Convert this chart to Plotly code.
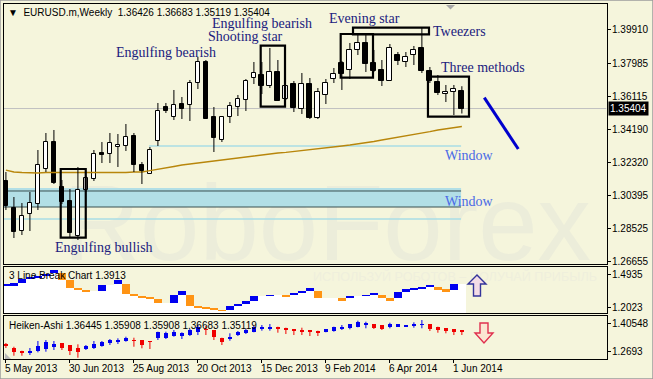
import base64
import plotly.graph_objects as go

W, H = 653, 379
BG = "#F5F5DC"
SANS = "Liberation Sans, Arial, sans-serif"
SERIF = "Liberation Serif, Times New Roman, serif"

# ---------------- data ----------------
tick_labels = ["5 May 2013", "30 Jun 2013", "25 Aug 2013", "20 Oct 2013",
               "15 Dec 2013", "9 Feb 2014", "6 Apr 2014", "1 Jun 2014"]
tick_index = [0, 8, 16, 24, 32, 40, 48, 56]

opens = [1.31245, 1.29696, 1.28376, 1.29352, 1.29925, 1.31934, 1.33483, 1.30901, 1.30098, 1.28089,
         1.30729, 1.31360, 1.32852, 1.32794, 1.33196, 1.33254, 1.33827, 1.32163, 1.31647, 1.33540,
         1.35491, 1.34918, 1.35663, 1.35606, 1.36868, 1.38073, 1.34918, 1.33598, 1.34918, 1.35491,
         1.35893, 1.37155, 1.37327, 1.36696, 1.37500, 1.35950, 1.36811, 1.35377, 1.36811, 1.34860,
         1.36180, 1.37098, 1.38016, 1.37614, 1.38762, 1.39164, 1.38016, 1.37614, 1.36983, 1.38475,
         1.38073, 1.38475, 1.38877, 1.37557, 1.36926, 1.36237, 1.36352, 1.36426]
highs = [1.31762, 1.30327, 1.29983, 1.30614, 1.33024, 1.33999, 1.34172, 1.31303, 1.30786, 1.32049,
         1.31532, 1.33024, 1.33483, 1.33999, 1.33942, 1.34516, 1.33999, 1.32335, 1.33196, 1.35721,
         1.35721, 1.36467, 1.36065, 1.37041, 1.38360, 1.38188, 1.35491, 1.34918, 1.35778, 1.36180,
         1.37098, 1.38073, 1.38073, 1.38877, 1.38188, 1.36696, 1.36983, 1.37442, 1.37155, 1.36582,
         1.37098, 1.37729, 1.38131, 1.39164, 1.39623, 1.39623, 1.38762, 1.38188, 1.39106, 1.38647,
         1.38647, 1.38992, 1.40024, 1.37787, 1.37327, 1.36754, 1.36754, 1.36683]
lows = [1.29581, 1.27975, 1.28147, 1.28376, 1.29581, 1.31762, 1.31073, 1.29925, 1.28032, 1.27860,
        1.30614, 1.31245, 1.32278, 1.32278, 1.32049, 1.32967, 1.31762, 1.31073, 1.31647, 1.33254,
        1.35147, 1.34745, 1.34803, 1.34688, 1.36524, 1.34803, 1.32909, 1.33483, 1.34573, 1.34975,
        1.35262, 1.36811, 1.36237, 1.36582, 1.35836, 1.35893, 1.35204, 1.35090, 1.34803, 1.34803,
        1.35663, 1.36868, 1.36467, 1.37098, 1.38475, 1.37500, 1.37500, 1.36696, 1.36983, 1.37901,
        1.37787, 1.37901, 1.37442, 1.36868, 1.36180, 1.35778, 1.35032, 1.35119]
closes = [1.29811, 1.28319, 1.29237, 1.29983, 1.32163, 1.33483, 1.31130, 1.30040, 1.28261, 1.30729,
          1.31417, 1.32794, 1.32737, 1.33426, 1.33311, 1.33770, 1.32163, 1.31819, 1.33024, 1.35262,
          1.35262, 1.35606, 1.35377, 1.36868, 1.38073, 1.34803, 1.33713, 1.34918, 1.35549, 1.35950,
          1.36983, 1.37442, 1.36696, 1.37500, 1.35836, 1.36696, 1.35434, 1.36811, 1.34860, 1.36352,
          1.36868, 1.37385, 1.37385, 1.38762, 1.39164, 1.37959, 1.37557, 1.36983, 1.38877, 1.38131,
          1.38360, 1.38762, 1.37557, 1.36983, 1.36295, 1.36352, 1.36524, 1.35404]
moving_avg = [1.31876, 1.31762, 1.31733, 1.31704, 1.31704, 1.31733, 1.31733, 1.31733, 1.31704, 1.31704,
              1.31704, 1.31704, 1.31721, 1.31721, 1.31721, 1.31733, 1.31762, 1.31762, 1.31836, 1.31905,
              1.31991, 1.32077, 1.32163, 1.32220, 1.32278, 1.32353, 1.32410, 1.32467, 1.32525, 1.32594,
              1.32651, 1.32708, 1.32754, 1.32794, 1.32852, 1.32892, 1.32938, 1.33024, 1.33064, 1.33099,
              1.33139, 1.33196, 1.33254, 1.33311, 1.33368, 1.33443, 1.33512, 1.33598, 1.33672, 1.33740,
              1.33827, 1.33913, 1.33999, 1.34074, 1.34172, 1.34246, 1.34315, 1.34372]

main_ticks = [1.26655, 1.28525, 1.30395, 1.32320, 1.34190, 1.36115, 1.37985, 1.39910]
last_price = 1.35404

# 3 line break bricks (low, high, direction) ; None = no new brick
lb_low = [1.3899, 1.3942, 1.4132, 1.4503, 1.4634, 1.4763, 1.4979, 1.4417, 1.3726, 1.3596,
          1.3424, None, 1.3424, None, 1.4071, 1.3208, 1.2992, 1.2905, 1.2776, 1.2430,
          None, 1.2430, 1.3121, 1.2171, 1.2041, 1.1912, 1.1825, 1.1739, 1.1825, 1.2171,
          1.2344, 1.2629, None, 1.3035, None, 1.2975, 1.3121, 1.3268, 1.3493, 1.2888,
          None, None, 1.2629, 1.2888, None, 1.3035, 1.3121, 1.2888, 1.2629, 1.2888,
          1.3406, 1.3614, 1.3700, 1.3786, 1.3553, 1.3406, 1.3553, None]
lb_high = [1.4071, 1.4158, 1.4503, 1.4677, 1.4763, 1.4935, 1.5281, 1.4979, 1.4417, 1.3726,
           1.3596, None, 1.4028, None, 1.4417, 1.4071, 1.3208, 1.2992, 1.2905, 1.2776,
           None, 1.3121, 1.3467, 1.3121, 1.2171, 1.2041, 1.1912, 1.1825, 1.2171, 1.2344,
           1.2629, 1.3035, None, 1.3121, None, 1.3121, 1.3268, 1.3493, 1.3700, 1.3467,
           None, None, 1.2888, 1.3035, None, 1.3121, 1.3294, 1.3121, 1.2888, 1.3406,
           1.3614, 1.3700, 1.3786, 1.3985, 1.3838, 1.3614, 1.4071, None]
lb_dir = ["u", "u", "u", "u", "u", "u", "u", "d", "d", "d",
          "d", None, "u", None, "u", "d", "d", "d", "d", "d",
          None, "u", "u", "d", "d", "d", "d", "d", "u", "u",
          "u", "u", None, "u", None, "d", "u", "u", "u", "d",
          None, None, "d", "u", None, "u", "u", "d", "d", "u",
          "u", "u", "u", "u", "d", "d", "u", None]
lb_ticks = [1.4935, 1.2023]

ha_open = [1.3038, 1.2884, 1.2740, 1.2663, 1.2726, 1.2807, 1.2932, 1.3095, 1.3014, 1.2855,
           1.2822, 1.2855, 1.2980, 1.3095, 1.3143, 1.3206, 1.3254, 1.3254, 1.3206, 1.3335,
           1.3364, 1.3445, 1.3460, 1.3493, 1.3652, 1.3767, 1.3734, 1.3364, 1.3335, 1.3493,
           1.3575, 1.3652, 1.3815, 1.3815, 1.3892, 1.3844, 1.3782, 1.3734, 1.3700, 1.3700,
           1.3652, 1.3700, 1.3815, 1.3815, 1.3892, 1.4021, 1.4007, 1.3973, 1.3925, 1.3892,
           1.3911, 1.3939, 1.3988, 1.4007, 1.3892, 1.3815, 1.3767, 1.3734]
ha_close = [1.2990, 1.2692, 1.2663, 1.2692, 1.2966, 1.3172, 1.3062, 1.2884, 1.2726, 1.2663,
            1.2966, 1.3062, 1.3143, 1.3254, 1.3254, 1.3364, 1.3206, 1.3014, 1.3158, 1.3623,
            1.3575, 1.3652, 1.3575, 1.3734, 1.3892, 1.3734, 1.3412, 1.3172, 1.3412, 1.3652,
            1.3734, 1.3892, 1.3863, 1.3892, 1.3815, 1.3734, 1.3700, 1.3685, 1.3652, 1.3623,
            1.3767, 1.3892, 1.3892, 1.4007, 1.4131, 1.4069, 1.3815, 1.3782, 1.4007, 1.4021,
            1.3939, 1.4007, 1.4021, 1.3782, 1.3734, 1.3700, 1.3652, 1.3685]
ha_high = [1.3110, 1.2932, 1.2740, 1.2870, 1.3206, 1.3254, 1.3206, 1.3095, 1.3014, 1.3047,
           1.3014, 1.3206, 1.3206, 1.3302, 1.3335, 1.3412, 1.3364, 1.3254, 1.3206, 1.3652,
           1.3652, 1.3734, 1.3623, 1.3782, 1.3973, 1.3925, 1.3734, 1.3364, 1.3575, 1.3685,
           1.3782, 1.3925, 1.3973, 1.4021, 1.3892, 1.3844, 1.3782, 1.3844, 1.3734, 1.3700,
           1.3782, 1.3892, 1.3973, 1.4021, 1.4179, 1.4131, 1.4007, 1.3973, 1.4083, 1.4021,
           1.3973, 1.4102, 1.4213, 1.4007, 1.3892, 1.3815, 1.3767, 1.3734]
ha_low = [1.2870, 1.2500, 1.2500, 1.2534, 1.2663, 1.2692, 1.2774, 1.2774, 1.2534, 1.2404,
          1.2774, 1.2822, 1.2932, 1.3014, 1.3062, 1.3172, 1.2932, 1.2855, 1.2822, 1.3254,
          1.3302, 1.3412, 1.3302, 1.3445, 1.3493, 1.3493, 1.3254, 1.3014, 1.3220, 1.3445,
          1.3541, 1.3623, 1.3700, 1.3700, 1.3604, 1.3541, 1.3493, 1.3493, 1.3445, 1.3445,
          1.3623, 1.3652, 1.3734, 1.3767, 1.3863, 1.3815, 1.3782, 1.3734, 1.3815, 1.3878,
          1.3878, 1.3844, 1.3815, 1.3685, 1.3604, 1.3575, 1.3493, 1.3493]
ha_ticks = [1.40548, 1.2693]
ha_tick_text = ["1.40548", "1.2693"]

# pattern boxes: (first bar, last bar, low price, high price)
pattern_boxes = [(6.85, 9.98, 1.27992, 1.31934),
                 (31.85, 34.89, 1.35509, 1.39009),
                 (41.85, 45.89, 1.37173, 1.39680),
                 (43.39, 52.89, 1.39663, 1.40042),
                 (52.76, 57.89, 1.34935, 1.37230)]
pattern_labels = [("Engulfing bullish", 5.9, 1.27458),
                  ("Engulfing bearish", 13.5, 1.38647),
                  ("Engulfing bearish", 25.5, 1.40300),
                  ("Shooting star", 25.0, 1.39560),
                  ("Evening star", 40.1, 1.40541),
                  ("Tweezers", 53.1, 1.39852),
                  ("Three methods", 54.1, 1.37758)]
window_labels = [("Window", 54.6, 1.32737), ("Window", 54.6, 1.30069)]
window_band = (1.29753, 1.30844)
window_dark_lines = [1.30672, 1.29753]
window_light_lines = [(17.9, 1.33254), (-0.24, 1.29065)]
trend_line = [(59.8, 1.36025), (64.05, 1.33081)]

# ---------------- geometry ----------------
X_RANGE = [-0.24, 75.08]
X_DOM = [4 / W, 606.5 / W]
Y1_DOM = [1 - 264 / H, 1 - 4 / H]
Y2_DOM = [1 - 313 / H, 1 - 267 / H]
Y3_DOM = [1 - 359 / H, 1 - 316 / H]
Y1_RANGE = [1.26483, 1.41401]
Y2_RANGE = [1.1566, 1.5540]
Y3_RANGE = [1.2343, 1.4405]


def fx(px):
    return px / W


def fy(py):
    return 1 - py / H


def idx_to_paper(i):
    return X_DOM[0] + (i - X_RANGE[0]) / (X_RANGE[1] - X_RANGE[0]) * (X_DOM[1] - X_DOM[0])


idx = list(range(len(opens)))
fig = go.Figure()

fig.add_trace(go.Scatter(x=idx, y=moving_avg, mode="lines",
                         line=dict(color="#B8860B", width=1.3),
                         xaxis="x", yaxis="y", hoverinfo="skip"))
wx, wy = [], []
for i, (o, h, l, c) in enumerate(zip(opens, highs, lows, closes)):
    top, bot = max(o, c), min(o, c)
    wx += [i, i, None, i, i, None]
    wy += [h, top, None, bot, l, None]
fig.add_trace(go.Scatter(x=wx, y=wy, mode="lines", line=dict(color="black", width=1),
                         xaxis="x", yaxis="y", hoverinfo="skip"))

for col, up in (("#0000F0", True), ("#F00000", False)):
    hx, hy = [], []
    for i, (o, h, l, c) in enumerate(zip(ha_open, ha_high, ha_low, ha_close)):
        if (c >= o) == up:
            hx += [i, i, None]
            hy += [h, l, None]
    fig.add_trace(go.Scatter(x=hx, y=hy, mode="lines", line=dict(color=col, width=1),
                             xaxis="x3", yaxis="y3", hoverinfo="skip"))

fig.add_trace(go.Bar(x=idx, base=[min(o, c) for o, c in zip(opens, closes)],
                     y=[abs(c - o) for o, c in zip(opens, closes)], width=0.6,
                     marker=dict(color=["white" if c >= o else "black" for o, c in zip(opens, closes)],
                                 line=dict(color="black", width=1)),
                     xaxis="x", yaxis="y", hoverinfo="skip"))

white_top = []
last_close = None
for lo, hi, d in zip(lb_low, lb_high, lb_dir):
    if d is None:
        white_top.append(last_close)
    else:
        white_top.append(lo)
        last_close = hi if d == "u" else lo
fig.add_trace(go.Bar(x=idx, base=[Y2_RANGE[0]] * len(idx),
                     y=[t - Y2_RANGE[0] for t in white_top], width=1.0,
                     marker=dict(color="white", line=dict(width=0)),
                     xaxis="x2", yaxis="y2", hoverinfo="skip"))
bx = [i for i, d in enumerate(lb_dir) if d is not None]
fig.add_trace(go.Bar(x=bx, base=[lb_low[i] for i in bx],
                     y=[lb_high[i] - lb_low[i] for i in bx], width=1.0,
                     marker=dict(color=["#0000F0" if lb_dir[i] == "u" else "#FF9414" for i in bx],
                                 line=dict(width=0)),
                     xaxis="x2", yaxis="y2", hoverinfo="skip"))

fig.add_trace(go.Bar(x=idx, base=[min(o, c) for o, c in zip(ha_open, ha_close)],
                     y=[abs(c - o) for o, c in zip(ha_open, ha_close)], width=0.5,
                     marker=dict(color=["#0000F0" if c >= o else "#F00000" for o, c in zip(ha_open, ha_close)],
                                 line=dict(width=0)),
                     xaxis="x3", yaxis="y3", hoverinfo="skip"))

# ---------------- shapes ----------------
shapes = []
shapes.append(dict(type="line", xref="x", yref="y", x0=X_RANGE[0], x1=X_RANGE[1],
                   y0=last_price, y1=last_price, line=dict(color="#C0C0C0", width=1), layer="below"))
shapes.append(dict(type="rect", xref="x", yref="y", x0=X_RANGE[0], x1=56.9,
                   y0=window_band[0], y1=window_band[1], fillcolor="#B2DFE6",
                   line=dict(width=0), layer="below"))
for yv in window_dark_lines:
    shapes.append(dict(type="line", xref="x", yref="y", x0=X_RANGE[0], x1=56.9, y0=yv, y1=yv,
                       line=dict(color="#3A5050", width=1), layer="below"))
for x0, yv in window_light_lines:
    shapes.append(dict(type="line", xref="x", yref="y", x0=x0, x1=56.9, y0=yv, y1=yv,
                       line=dict(color="#A8DCE6", width=1.3), layer="below"))
for x0, x1, y0, y1 in pattern_boxes:
    shapes.append(dict(type="rect", xref="x", yref="y", x0=x0, x1=x1, y0=y0, y1=y1,
                       line=dict(color="black", width=2.2), fillcolor="rgba(0,0,0,0)"))
shapes.append(dict(type="line", xref="x", yref="y", x0=trend_line[0][0], y0=trend_line[0][1],
                   x1=trend_line[1][0], y1=trend_line[1][1], line=dict(color="#0000CD", width=3)))


def path(points):
    return "M " + " L ".join(f"{fx(a):.5f},{fy(b):.5f}" for a, b in points) + " Z"


shapes.append(dict(type="path", xref="paper", yref="paper",
                   path=path([(477, 275), (486, 284), (480.5, 284), (480.5, 296), (473.5, 296),
                              (473.5, 284), (468, 284)]),
                   line=dict(color="#34349A", width=1.4), fillcolor="#F4DCE6"))
shapes.append(dict(type="path", xref="paper", yref="paper",
                   path=path([(480, 323), (488, 323), (488, 333), (493, 333), (484, 343),
                              (475, 333), (480, 333)]),
                   line=dict(color="#E0304E", width=1.4), fillcolor="#FBE6D2"))
shapes.append(dict(type="path", xref="paper", yref="paper",
                   path=path([(446, 5), (455, 5), (450.5, 9.5)]),
                   line=dict(width=0), fillcolor="#A8A8A8"))
shapes.append(dict(type="path", xref="paper", yref="paper",
                   path=path([(5, 353), (5, 359), (11, 359)]),
                   line=dict(width=0), fillcolor="#B8B8B8"))
shapes.append(dict(type="rect", xref="paper", yref="paper", x0=0, x1=1, y0=0, y1=1,
                   line=dict(color="#9C9C9C", width=1.5)))

# ---------------- annotations ----------------
TF = dict(family=SANS, size=10, color="black")
ann = []
for text, xv, yv in pattern_labels:
    ann.append(dict(x=xv, y=yv, xref="x", yref="y", text=text, showarrow=False,
                    xanchor="left", yanchor="middle",
                    font=dict(family=SERIF, size=14, color="#20207E")))
for text, xv, yv in window_labels:
    ann.append(dict(x=xv, y=yv, xref="x", yref="y", text=text, showarrow=False,
                    xanchor="left", yanchor="middle",
                    font=dict(family=SERIF, size=14, color="#4A6AE6")))
ann.append(dict(x=fx(6), y=fy(12.5), xref="paper", yref="paper", showarrow=False,
                xanchor="left", yanchor="middle", font=TF,
                text="\u25BC  EURUSD.m,Weekly  1.36426 1.36683 1.35119 1.35404"))
ann.append(dict(x=fx(7), y=fy(275.5), xref="paper", yref="paper", showarrow=False,
                xanchor="left", yanchor="middle", font=TF, text="3 Line Break Chart 1.3913"))
ann.append(dict(x=fx(7), y=fy(325), xref="paper", yref="paper", showarrow=False,
                xanchor="left", yanchor="middle", font=TF,
                text="Heiken-Ashi 1.36445 1.35908 1.35908 1.36683 1.35119"))
ann.append(dict(x=fx(607.5), y=last_price, xref="paper", yref="y", showarrow=False,
                xanchor="left", yanchor="middle", bgcolor="black", borderpad=1,
                font=dict(family=SANS, size=10, color="white"), text=f"{last_price:.5f}"))
for yref, vals, texts in (("y", main_ticks, [f"{v:.5f}" for v in main_ticks]),
                          ("y2", lb_ticks, [f"{v:.4f}" for v in lb_ticks]),
                          ("y3", ha_ticks, ha_tick_text)):
    for v, t in zip(vals, texts):
        ann.append(dict(x=fx(610), y=v, xref="paper", yref=yref, text=t, showarrow=False,
                        xanchor="left", yanchor="middle", font=TF))
for i, t in zip(tick_index, tick_labels):
    ann.append(dict(x=idx_to_paper(i) - fx(3), y=fy(368.5), xref="paper", yref="paper", text=t,
                    showarrow=False, xanchor="left", yanchor="middle", font=TF))

svg = (f'<svg xmlns="http://www.w3.org/2000/svg" width="{W}" height="{H}">'
       f'<text x="63" y="260" font-family="Liberation Sans, Arial, sans-serif" font-size="108" '
       f'textLength="528" lengthAdjust="spacingAndGlyphs" fill="#ECEDDA">RoboForex</text>'
       f'<text x="313" y="280.5" font-family="Liberation Sans, Arial, sans-serif" font-size="12" '
       f'textLength="284" lengthAdjust="spacingAndGlyphs" fill="#EFEFDC">'
       f'ИСПОЛЬЗУЙ РОБОТОВ – ПОЛУЧАЙ ПРИБЫЛЬ</text></svg>')
svg_uri = "data:image/svg+xml;base64," + base64.b64encode(svg.encode("utf-8")).decode("ascii")

common_x = dict(range=X_RANGE, domain=X_DOM, showgrid=False, zeroline=False, showline=True,
                mirror=True, linecolor="black", linewidth=1, fixedrange=True)
common_y = dict(side="right", showgrid=False, zeroline=False, showline=True, mirror=True,
                linecolor="black", linewidth=1, ticks="outside", ticklen=3, tickcolor="black",
                showticklabels=False, fixedrange=True)

fig.update_layout(
    width=W, height=H, margin=dict(l=0, r=0, t=0, b=0),
    paper_bgcolor=BG, plot_bgcolor="rgba(0,0,0,0)",
    showlegend=False, hovermode=False, barmode="overlay", bargap=0,
    xaxis=dict(**common_x, anchor="y", showticklabels=False, ticks=""),
    xaxis2=dict(**common_x, anchor="y2", showticklabels=False, ticks=""),
    xaxis3=dict(**common_x, anchor="y3", tickvals=tick_index, showticklabels=False,
                ticks="outside", ticklen=3, tickcolor="black"),
    yaxis=dict(**common_y, domain=Y1_DOM, range=Y1_RANGE, anchor="x", tickvals=main_ticks),
    yaxis2=dict(**common_y, domain=Y2_DOM, range=Y2_RANGE, anchor="x2", tickvals=lb_ticks),
    yaxis3=dict(**common_y, domain=Y3_DOM, range=Y3_RANGE, anchor="x3", tickvals=ha_ticks),
    shapes=shapes, annotations=ann,
    images=[dict(source=svg_uri, xref="paper", yref="paper", x=0, y=1, sizex=1, sizey=1,
                 xanchor="left", yanchor="top", sizing="stretch", layer="below")],
)

fig.write_html("out.html", config={"displayModeBar": False},
               post_script="document.body.style.margin='0';document.body.style.overflow='hidden';")
